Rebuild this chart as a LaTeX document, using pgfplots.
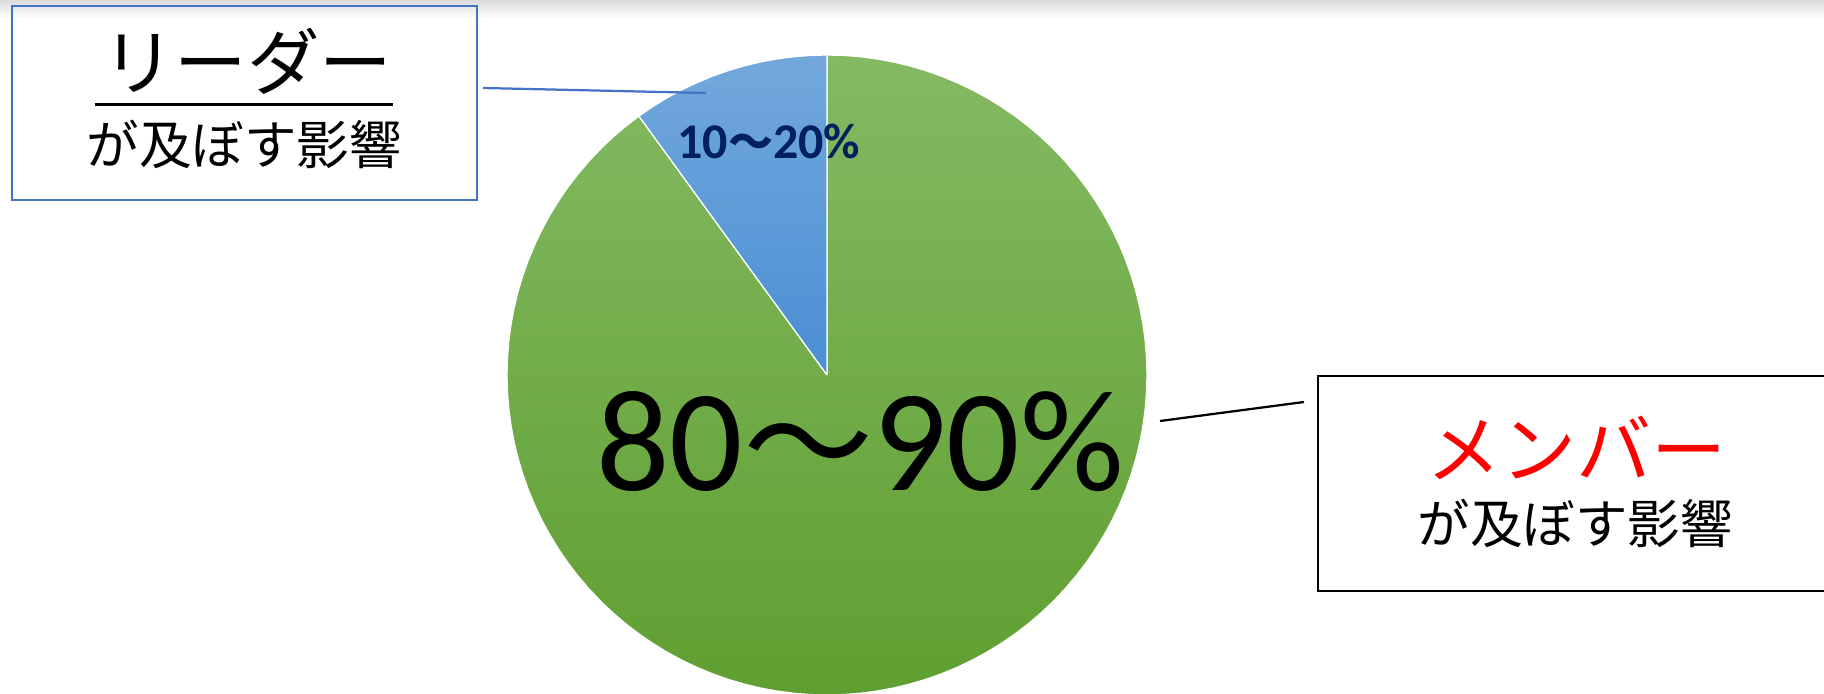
\documentclass[border=0pt]{standalone}
\usepackage{pgfplots}
\pgfplotsset{compat=1.18}
\usepackage{fontspec}
\setmainfont{Carlito}
\newfontfamily\cjk{Noto Sans CJK JP}
\definecolor{gtop}{HTML}{84BA63}
\definecolor{gbot}{HTML}{5F9F30}
\definecolor{btop}{HTML}{72A8DC}
\definecolor{bbot}{HTML}{4A8ED4}
\definecolor{navy}{HTML}{002060}
\definecolor{lblue}{HTML}{4472C4}
\begin{document}
\begin{tikzpicture}
% top grey band
\shade[top color=black!14, bottom color=white] (0pt,277.6pt) rectangle (729.6pt,270pt);
\begin{axis}[hide axis, anchor=origin, at={(330.8pt,127.6pt)},
  x=128pt, y=128pt, xmin=-1.05, xmax=1.05, ymin=-1.05, ymax=1.05, clip=false]
% Member share: 90% (clockwise from top)
\addplot[data cs=polar, no marks, draw=white, line width=0.5pt, top color=gtop, bottom color=gbot] coordinates {
(0,0) (126,1) (129,1) (132,1) (135,1) (138,1) (141,1) (144,1) (147,1) (150,1) (153,1) (156,1) (159,1) (162,1) (165,1) (168,1) (171,1) (174,1) (177,1) (180,1) (183,1) (186,1) (189,1) (192,1) (195,1) (198,1) (201,1) (204,1) (207,1) (210,1) (213,1) (216,1) (219,1) (222,1) (225,1) (228,1) (231,1) (234,1) (237,1) (240,1) (243,1) (246,1) (249,1) (252,1) (255,1) (258,1) (261,1) (264,1) (267,1) (270,1) (273,1) (276,1) (279,1) (282,1) (285,1) (288,1) (291,1) (294,1) (297,1) (300,1) (303,1) (306,1) (309,1) (312,1) (315,1) (318,1) (321,1) (324,1) (327,1) (330,1) (333,1) (336,1) (339,1) (342,1) (345,1) (348,1) (351,1) (354,1) (357,1) (360,1) (363,1) (366,1) (369,1) (372,1) (375,1) (378,1) (381,1) (384,1) (387,1) (390,1) (393,1) (396,1) (399,1) (402,1) (405,1) (408,1) (411,1) (414,1) (417,1) (420,1) (423,1) (426,1) (429,1) (432,1) (435,1) (438,1) (441,1) (444,1) (447,1) (450,1) (0,0)
};
% Leader share: 10%
\addplot[data cs=polar, no marks, draw=white, line width=0.5pt, top color=btop, bottom color=bbot] coordinates {
(0,0) (90,1) (93,1) (96,1) (99,1) (102,1) (105,1) (108,1) (111,1) (114,1) (117,1) (120,1) (123,1) (126,1) (0,0)
};
\end{axis}
% slice labels
\node[anchor=base, text=navy, inner sep=0pt] at (307.6pt,214pt)
  {\fontsize{20pt}{20pt}\selectfont\bfseries 10{\cjk\fontsize{18pt}{18pt}\selectfont 〜}20\%};
\node[anchor=base, text=black, inner sep=0pt] at (344pt,81.2pt)
  {\fontsize{58pt}{58pt}\selectfont 80{\cjk\fontsize{52pt}{52pt}\selectfont 〜}90\%};
% left callout
\draw[lblue, line width=0.8pt] (4.8pt,197.6pt) rectangle (190.8pt,275.2pt);
\draw[lblue, line width=0.9pt] (193.2pt,242.4pt) -- (282.4pt,240.4pt);
\node[anchor=base, inner sep=0pt] at (98.8pt,241.8pt) {\cjk\fontsize{29pt}{29pt}\selectfont リーダー};
\draw[black, line width=1.2pt] (38pt,235.6pt) -- (157.2pt,235.6pt);
\node[anchor=base, inner sep=0pt] at (97.6pt,211.6pt) {\cjk\fontsize{21pt}{21pt}\selectfont が及ぼす影響};
% right callout
\draw[black, line width=0.8pt] (527.2pt,41.2pt) rectangle (735pt,127.2pt);
\draw[black, line width=0.9pt] (464pt,109.2pt) -- (521.6pt,116.8pt);
\node[anchor=base, inner sep=0pt, text=red] at (630.4pt,86.4pt) {\cjk\fontsize{30pt}{30pt}\selectfont メンバー};
\node[anchor=base, inner sep=0pt] at (630pt,60.3pt) {\cjk\fontsize{21pt}{21pt}\selectfont が及ぼす影響};
\pgfresetboundingbox
\path[use as bounding box] (0pt,0pt) rectangle (729.6pt,277.6pt);
\end{tikzpicture}
\end{document}
